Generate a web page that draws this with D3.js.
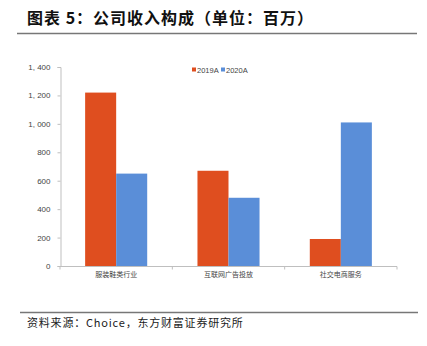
<!DOCTYPE html>
<html><head><meta charset="utf-8">
<script src="https://cdn.jsdelivr.net/npm/d3@7"></script>
<style>body{margin:0;background:#fff}svg{display:block}</style>
</head><body>
<script>
const categories = ["服装鞋类行业", "互联网广告投放", "社交电商服务"];
const seriesNames = ["2019A", "2020A"];
const values2019 = [1220, 670, 190];
const values2020 = [650, 480, 1010];
const yTicks = [0, 200, 400, 600, 800, 1000, 1200, 1400];
const yTickLabels = ["0", "200", "400", "600", "800", "1, 000", "1, 200", "1, 400"];
const colors = ["#DF4E1F", "#5A8ED8"];

const W = 427, H = 346;
const svg = d3.select("body").append("svg").attr("width", W).attr("height", H);

// Title
svg.append("text").attr("x", 27).attr("y", 24)
  .attr("font-family", "'Noto Sans CJK SC'").attr("font-weight", "bold")
  .attr("font-size", 16).attr("letter-spacing", 1).attr("fill", "#111")
  .text("图表 5：公司收入构成（单位：百万）");
svg.append("line").attr("x1", 17).attr("x2", 417).attr("y1", 33.5).attr("y2", 33.5)
  .attr("stroke", "#777").attr("stroke-width", 1.5);

// Footer
svg.append("line").attr("x1", 20).attr("x2", 418).attr("y1", 312.5).attr("y2", 312.5)
  .attr("stroke", "#777").attr("stroke-width", 1.5);
svg.append("text").attr("x", 27).attr("y", 327)
  .attr("font-family", "'Noto Sans CJK SC'").attr("font-size", 11).attr("letter-spacing", 0.8).attr("fill", "#222")
  .text("资料来源：Choice，东方财富证券研究所");

const y = d3.scaleLinear().domain([0, 1400]).range([266, 67]);
const x0 = d3.scaleBand().domain(categories).range([60, 397]).padding(0);
const x1 = d3.scaleBand().domain(seriesNames).range([0, x0.bandwidth()]).paddingInner(0).paddingOuter(0.81);

// Y axis
const yAxis = d3.axisLeft(y).tickValues(yTicks).tickSize(3).tickPadding(7)
  .tickFormat((d, i) => yTickLabels[i]);
const gy = svg.append("g").attr("transform", "translate(60.5,0)").call(yAxis);
gy.select(".domain").attr("stroke", "#bfbfbf");
gy.selectAll(".tick line").attr("stroke", "#bfbfbf");
gy.selectAll(".tick text").attr("font-family", "Arial, 'Liberation Sans'").attr("font-size", 8).attr("fill", "#444");

// Bars
const data = categories.map((c, i) => ({ c, vals: [values2019[i], values2020[i]] }));
const groups = svg.append("g").selectAll("g").data(data).join("g")
  .attr("transform", d => `translate(${x0(d.c)},0)`);
groups.selectAll("rect").data(d => d.vals.map((v, j) => ({ s: seriesNames[j], v, j })))
  .join("rect")
  .attr("x", d => x1(d.s)).attr("width", x1.bandwidth())
  .attr("y", d => y(d.v)).attr("height", d => y(0) - y(d.v))
  .attr("fill", d => colors[d.j]);

// X axis
const gx = svg.append("g").attr("transform", "translate(0,266.5)");
gx.append("line").attr("x1", 60).attr("x2", 397).attr("stroke", "#bfbfbf");
const bounds = [60].concat(categories.map(c => x0(c) + x0.bandwidth()));
gx.selectAll("line.t").data(bounds).join("line").attr("class", "t")
  .attr("x1", d => d).attr("x2", d => d).attr("y1", 0).attr("y2", 3).attr("stroke", "#bfbfbf");
gx.selectAll("text").data(categories).join("text")
  .attr("x", d => x0(d) + x0.bandwidth() / 2).attr("y", 10)
  .attr("text-anchor", "middle")
  .attr("font-family", "'Noto Sans CJK SC'").attr("font-size", 7).attr("fill", "#444")
  .text(d => d);

// Legend
const legX = [192, 221];
const leg = svg.append("g").selectAll("g").data(seriesNames).join("g")
  .attr("transform", (d, i) => `translate(${legX[i]},70)`);
leg.append("rect").attr("x", 0).attr("y", -2.5).attr("width", 4).attr("height", 4)
  .attr("fill", (d, i) => colors[i]);
leg.append("text").attr("x", 5).attr("y", 3)
  .attr("font-family", "Arial, 'Liberation Sans'").attr("font-size", 7.5).attr("fill", "#444")
  .text(d => d);
</script>
</body></html>
